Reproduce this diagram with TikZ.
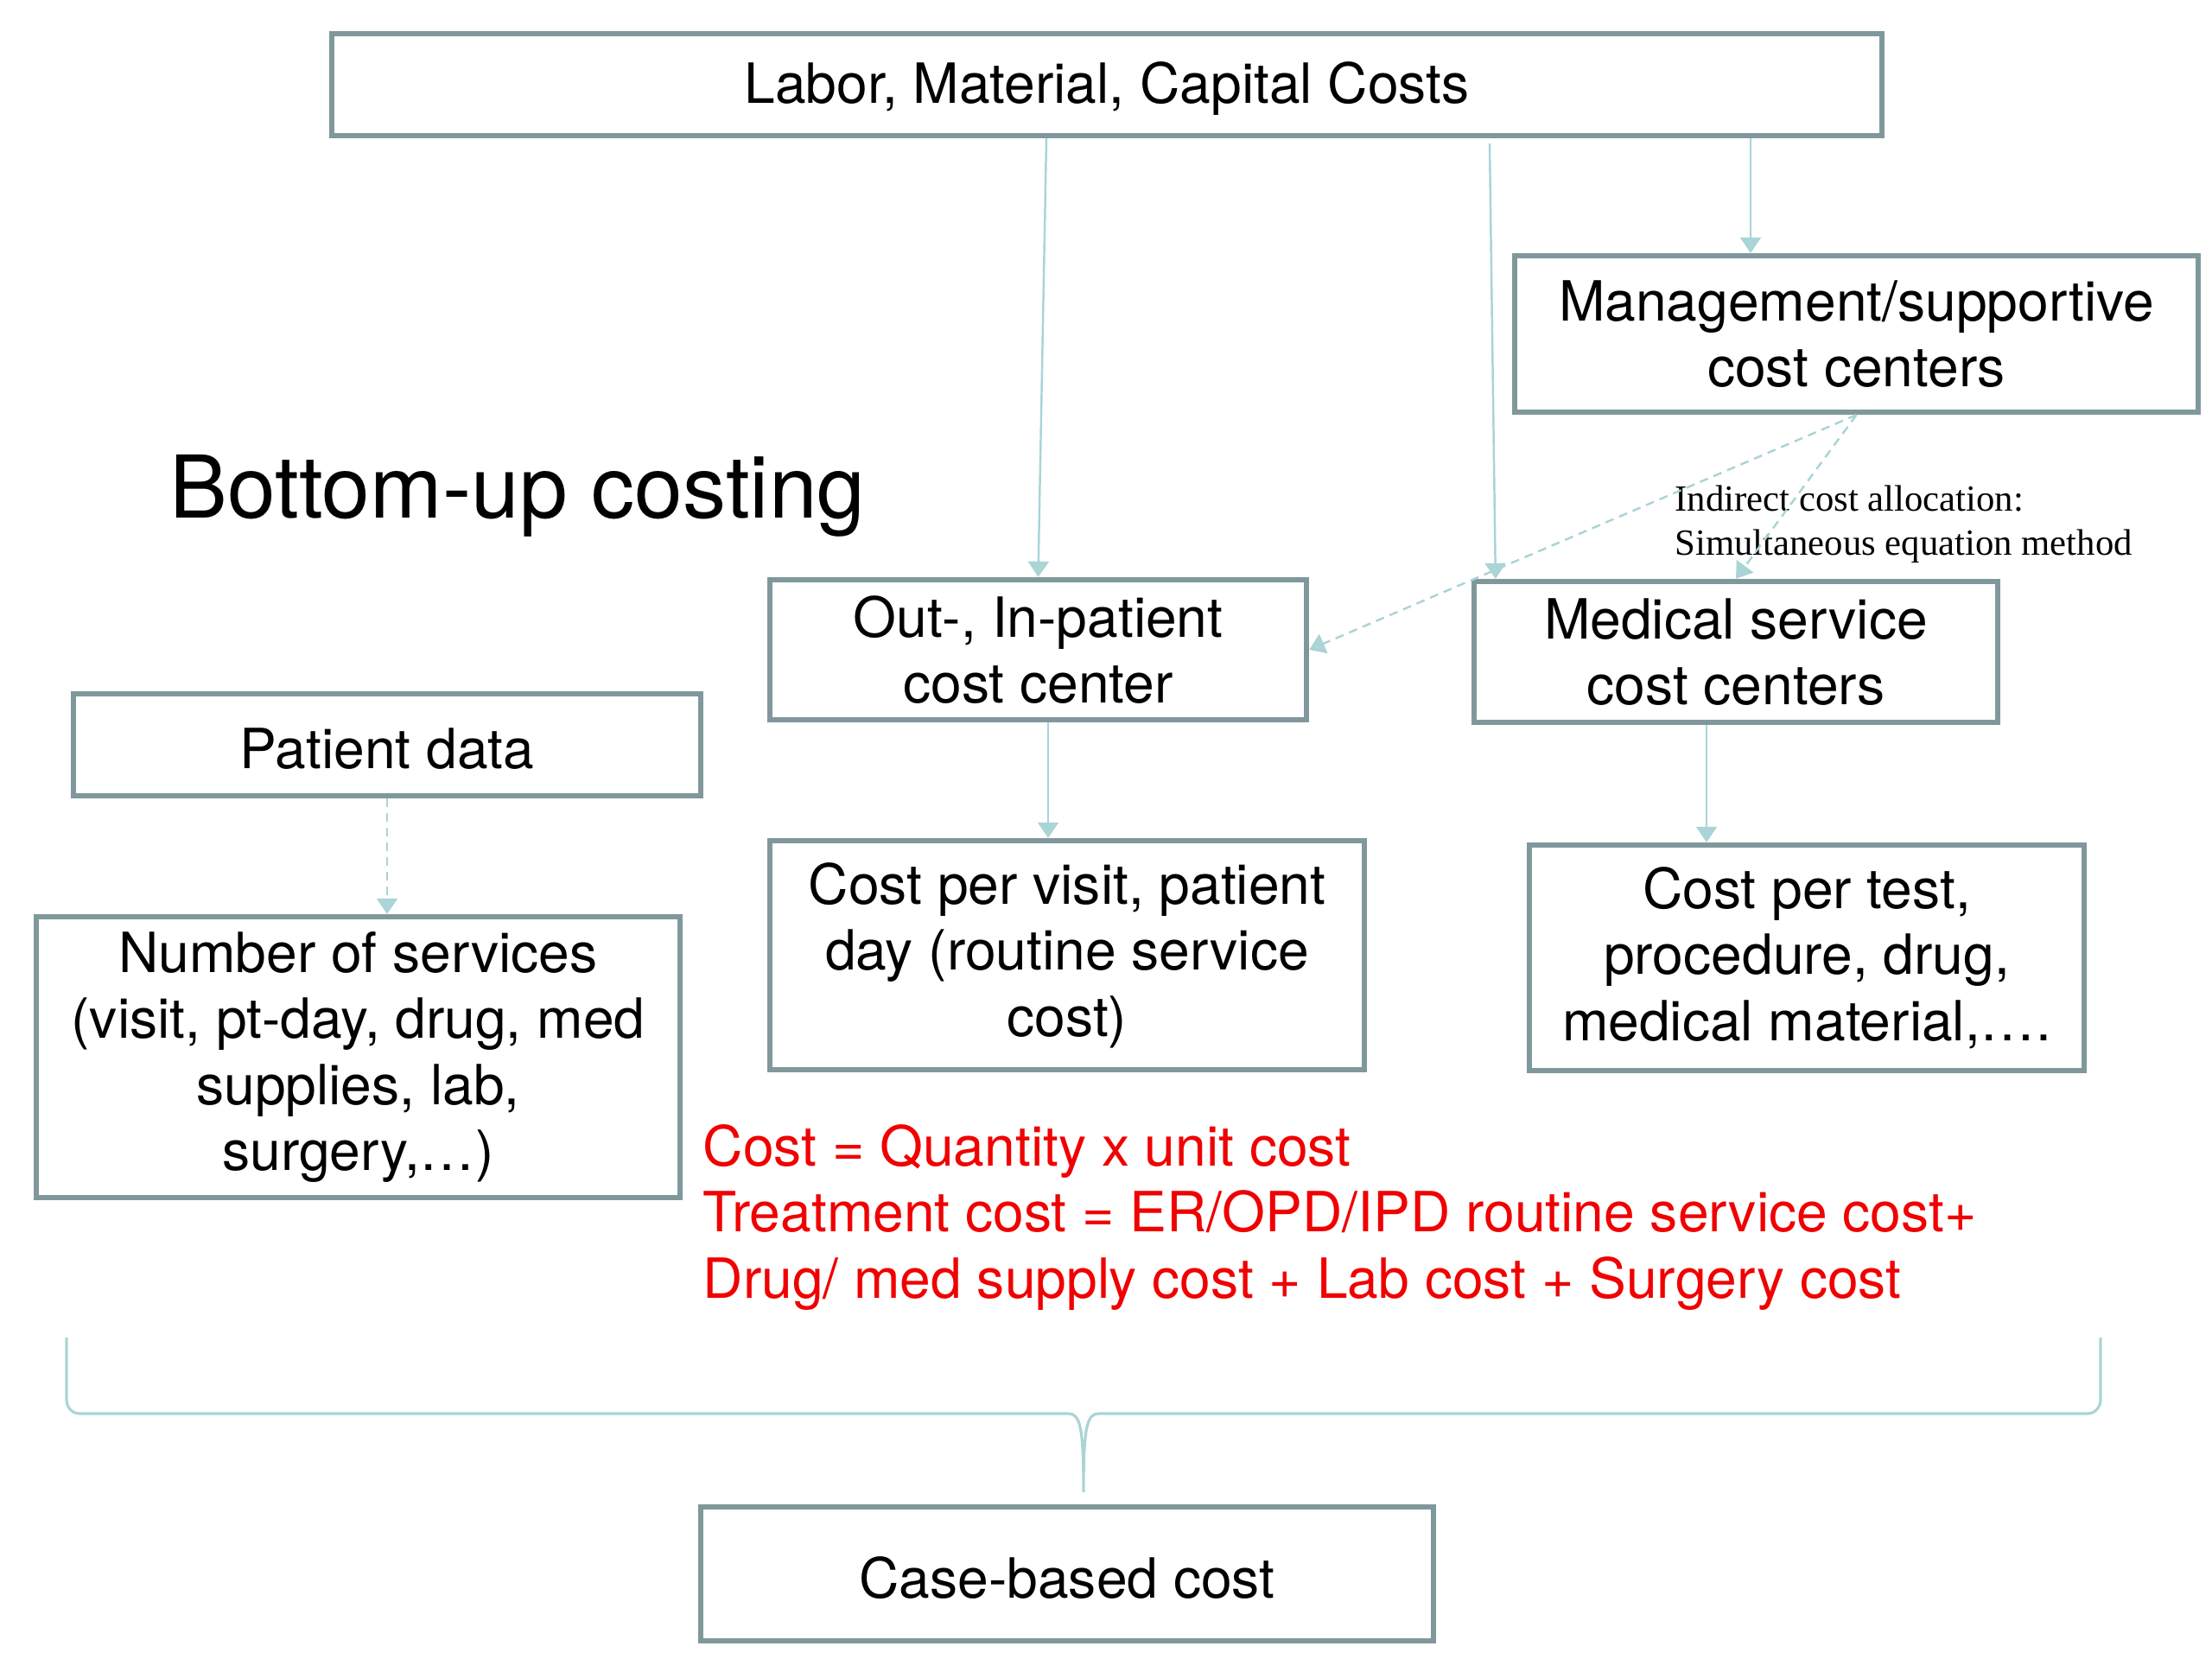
\documentclass[tikz,border=0pt]{standalone}
\usepackage{fontspec}
\setmainfont{TeX Gyre Heros}
\newfontfamily\notefont{Liberation Serif}
\usetikzlibrary{positioning}
\usetikzlibrary{calc}
\usetikzlibrary{arrows.meta}
\definecolor{boxline}{RGB}{128,152,156}
\definecolor{arrline}{RGB}{170,212,214}
\definecolor{eqred}{RGB}{240,0,0}
\tikzset{cbox/.style={draw=boxline, line width=1.8pt, align=center, inner sep=0pt,
  font=\fontsize{18.25}{21.8}\selectfont, execute at begin node={\rule{0pt}{16pt}}}}
\tikzset{arr/.style={draw=arrline, line width=0.7pt, -{Triangle[length=1.8mm,width=2.4mm]}}}
\tikzset{darr/.style={arr, dash pattern=on 1mm off 0.7mm}}

\begin{document}
\begin{tikzpicture}
\useasboundingbox (0,0) rectangle (25.6,19.2);

\node[cbox, minimum width=17.94cm, minimum height=1.18cm] (top) at (12.81, 18.22) {Labor, Material, Capital Costs};
\node[cbox, minimum width=7.91cm, minimum height=1.81cm] (mgmt) at (21.485, 15.335) {Management/supportive\\cost centers};
\node[cbox, minimum width=6.21cm, minimum height=1.62cm] (outp) at (12.015, 11.68) {Out-, In-patient\\cost center};
\node[cbox, minimum width=6.06cm, minimum height=1.63cm] (med) at (20.09, 11.655) {Medical service\\cost centers};
\node[cbox, minimum width=7.26cm, minimum height=1.18cm] (patient) at (4.48, 10.58) {Patient data};
\node[cbox, minimum width=7.45cm, minimum height=3.25cm] (nserv) at (4.145, 6.965) {Number of services\\(visit, pt-day, drug, med\\supplies, lab,\\surgery,…)};
\node[cbox, minimum width=6.88cm, minimum height=2.65cm] (visit) at (12.35, 8.145) {Cost per visit, patient\\day (routine service\\cost)};
\node[cbox, minimum width=6.42cm, minimum height=2.61cm] (test) at (20.91, 8.115) {Cost per test,\\procedure, drug,\\medical material,….};
\node[cbox, minimum width=8.48cm, minimum height=1.55cm] (case) at (12.35, 0.985) {Case-based cost};

\node[anchor=west, inner sep=0pt, font=\fontsize{28.5}{34}\selectfont] (title) at (1.96, 13.46) {Bottom-up costing};
\node[anchor=west, align=left, inner sep=0pt, text=eqred, font=\fontsize{18.25}{21.8}\selectfont] (eq) at (8.13, 5.11)
  {Cost = Quantity x unit cost\\Treatment cost = ER/OPD/IPD routine service cost+\\Drug/ med supply cost + Lab cost + Surgery cost};
\node[anchor=west, align=left, inner sep=0pt, font=\notefont\fontsize{12.15}{14.5}\selectfont] (note) at (19.38, 13.135)
  {Indirect cost allocation:\\Simultaneous equation method};

% arrow end points
\coordinate (mgin) at ($(mgmt.north)+(-1.225,0)$);
\coordinate (opout) at ($(outp.south)+(0.115,0)$);
\coordinate (mdout) at ($(med.south)+(-0.34,0)$);

% direct costs
\draw[arr] ($(top.south)+(-0.7,0)$) -- (outp.north);
\draw[arr] ($(top.south)+(4.43,-0.06)$) -- ($(med.north west)+(0.28,0)$);
\draw[arr] (mgin |- top.south) -- (mgin);

% allocation
\draw[darr] (mgmt.south) -- (outp.east);
\draw[darr] (mgmt.south) -- (med.north);

\draw[arr] (opout) -- (opout |- visit.north);
\draw[arr] (mdout) -- (mdout |- test.north);
\draw[darr] (patient.south) -- (patient.south |- nserv.north);

% brace
\coordinate (tip) at (12.54, 1.93);
\draw[arrline, line width=0.9pt] (0.77,3.72) -- (0.77,3.0) to[out=-90,in=180] (0.92,2.84) -- (12.36,2.84)
  .. controls (12.5,2.84) and (12.54,2.7) .. (tip)
  .. controls (12.54,2.7) and (12.58,2.84) .. (12.72,2.84) -- (24.16,2.84) to[out=0,in=-90] (24.31,3.0) -- (24.31,3.72);
\end{tikzpicture}
\end{document}
